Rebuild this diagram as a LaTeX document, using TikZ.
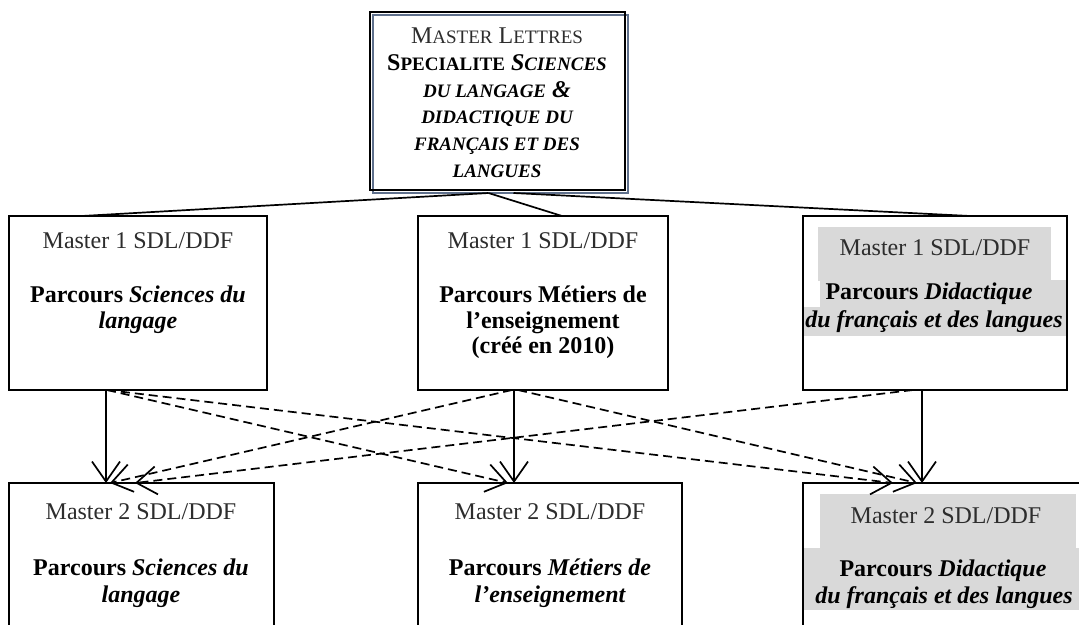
\documentclass[tikz,border=0pt]{standalone}
\usepackage{fontspec}
\setmainfont{Liberation Serif}
\usetikzlibrary{arrows.meta}
\definecolor{hl}{RGB}{217,217,217}
\definecolor{shadowblue}{RGB}{95,112,140}
\definecolor{txtgray}{RGB}{45,45,45}
\newcommand\fsz[1]{\fontsize{#1}{#1}\selectfont}
\newcommand\mysc[2]{{\fsz{24}#1}{\fsz{19}#2}}
\begin{document}
\begin{tikzpicture}[x=1pt,y=-1pt,
  box/.style={draw, line width=2pt, inner sep=0pt, outer sep=0pt, anchor=north west},
  ln/.style={anchor=base, inner sep=0pt, font=\fsz{24}},
  mst/.style={ln, text=txtgray},
  conn/.style={line width=1.7pt},
  arr/.style={conn, -{Straight Barb[length=20pt,width=28pt,line width=1.7pt]}},
  dsh/.style={arr, dash pattern=on 9pt off 5pt}]
\clip (0,0) rectangle (1079,624);
\fill[white] (0,0) rectangle (1079,624);

% highlights
\fill[hl] (818,227) rectangle (1051,281);
\fill[hl] (820,280) rectangle (1066,308);
\fill[hl] (803,307) rectangle (1066,336);
\fill[hl] (820,494) rectangle (1076,549);
\fill[hl] (804,548) rectangle (1079,610);

% top box
\node[box, draw=shadowblue, line width=1.5pt, minimum width=255pt, minimum height=178pt] (Ts) at (373,15) {};
\node[box, minimum width=255pt, minimum height=178pt] (T) at (370,12) {};

% boxes
\node[box, minimum width=258pt, minimum height=174pt] (L1) at (9,216) {};
\node[box, minimum width=250pt, minimum height=174pt] (M1) at (418,216) {};
\node[box, minimum width=264pt, minimum height=174pt] (R1) at (803,216) {};
\node[box, minimum width=265pt, minimum height=200pt] (L2) at (9,483) {};
\node[box, minimum width=264pt, minimum height=200pt] (M2) at (418,483) {};
\node[box, minimum width=300pt, minimum height=200pt] (R2) at (803,483) {};

% top text
\node[mst] (t1) at (497,43) {\mysc{M}{ASTER} \mysc{L}{ETTRES}};
\node[ln] (t2) at (497,70) {\bfseries\mysc{S}{PECIALITE} \itshape\mysc{S}{CIENCES}};
\node[ln] (t3) at (497,97) {\bfseries\itshape{\fsz{19}DU LANGAGE} {\fsz{24}\&}};
\node[ln] (t4) at (497,123) {\bfseries\itshape\fsz{19}DIDACTIQUE DU};
\node[ln] (t5) at (497,150) {\bfseries\itshape\fsz{19}FRANÇAIS ET DES};
\node[ln] (t6) at (497,177) {\bfseries\itshape\fsz{19}LANGUES};

% row 1 text
\node[mst] (l1a) at (138,248) {Master 1 SDL/DDF};
\node[ln] (l1b) at (138,302) {\bfseries Parcours \textit{Sciences du}};
\node[ln] (l1c) at (138,328) {\bfseries\itshape langage};

\node[mst] (m1a) at (543,248) {Master 1 SDL/DDF};
\node[ln] (m1b) at (543,302) {\bfseries Parcours Métiers de};
\node[ln] (m1c) at (543,328) {\bfseries l’enseignement};
\node[ln] (m1d) at (543,353) {\bfseries (créé en 2010)};

\node[mst] (r1a) at (935,255) {Master 1 SDL/DDF};
\node[ln] (r1b) at (929,299) {\bfseries Parcours \textit{Didactique}};
\node[ln] (r1c) at (934,327) {\bfseries\itshape du français et des langues};

% row 2 text
\node[mst] (l2a) at (141,519) {Master 2 SDL/DDF};
\node[ln] (l2b) at (141,575) {\bfseries Parcours \textit{Sciences du}};
\node[ln] (l2c) at (141,602) {\bfseries\itshape langage};

\node[mst] (m2a) at (550,519) {Master 2 SDL/DDF};
\node[ln] (m2b) at (550,575) {\bfseries Parcours \textit{Métiers de}};
\node[ln] (m2c) at (550,602) {\bfseries\itshape l’enseignement};

\node[mst] (r2a) at (946,523) {Master 2 SDL/DDF};
\node[ln] (r2b) at (943,576) {\bfseries Parcours \textit{Didactique}};
\node[ln] (r2c) at (944,603) {\bfseries\itshape du français et des langues};

% connectors from top box
\draw[conn] ([xshift=-9pt,yshift=-3pt]T.south) -- ([xshift=73pt]L1.north west);
\draw[conn] ([xshift=-9pt,yshift=-3pt]T.south) -- ([xshift=19pt]M1.north);
\draw[conn] ([xshift=16pt,yshift=-3pt]T.south) -- ([xshift=35pt]R1.north);

% solid arrows
\draw[arr] ([xshift=97pt]L1.south west) -- ([xshift=97pt]L2.north west);
\draw[arr] ([xshift=96pt]M1.south west) -- ([xshift=96pt]M2.north west);
\draw[arr] ([xshift=119pt]R1.south west) -- ([xshift=119pt]R2.north west);

% dashed arrows
\draw[dsh] ([xshift=98pt]L1.south west) -- ([xshift=90pt]M2.north west);
\draw[dsh] ([xshift=98pt]L1.south west) -- ([xshift=90pt]R2.north west);
\draw[dsh] ([xshift=94pt]M1.south west) -- ([xshift=101pt]L2.north west);
\draw[dsh] ([xshift=100pt]M1.south west) -- ([xshift=114pt]R2.north west);
\draw[dsh] ([xshift=110pt]R1.south west) -- ([xshift=126pt]L2.north west);
\end{tikzpicture}
\end{document}
